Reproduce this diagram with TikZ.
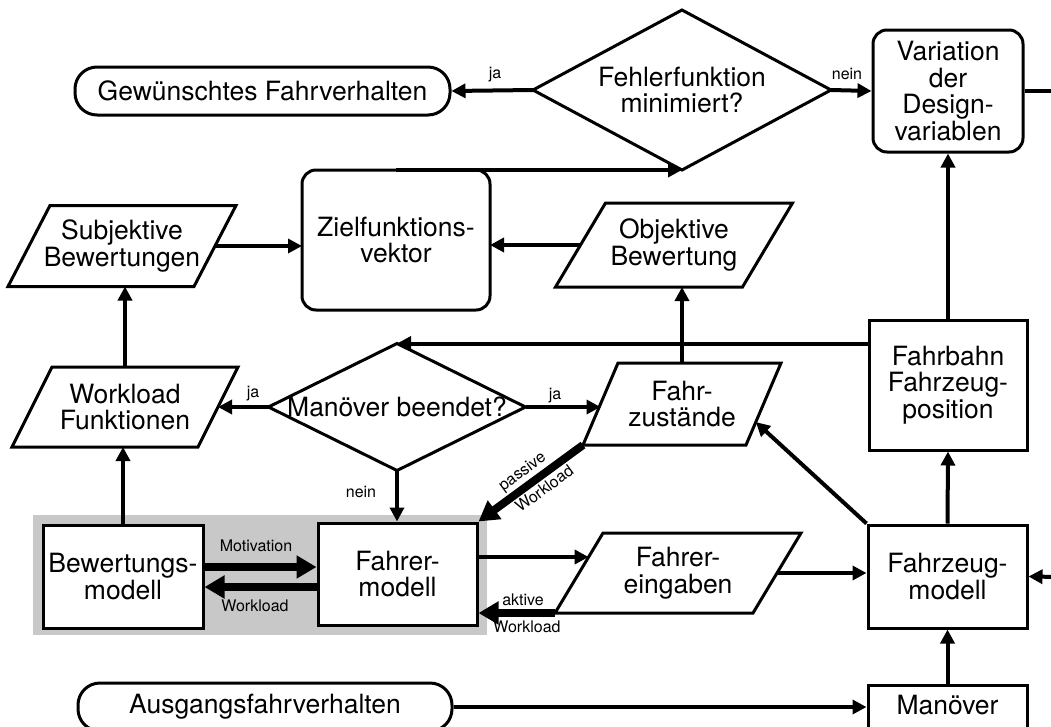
\documentclass[tikz,border=0pt]{standalone}
\usepackage{fontspec}
\setmainfont{TeX Gyre Heros}
\usetikzlibrary{arrows.meta,calc}
\definecolor{bggray}{RGB}{200,200,200}
\newcommand\bigf{\fontsize{26.5}{26.5}\selectfont}
\newcommand\smallf{\fontsize{16}{17}\selectfont}
\tikzset{
 shp/.style={draw, line width=3pt, inner sep=0pt, align=center, font=\bigf},
 rbox/.style={shp, rounded corners=14pt},
 sbox/.style={shp},
 pill/.style={shp, rounded corners=22pt},
 txt/.style={inner sep=0pt, outer sep=0pt, align=center, font=\bigf},
 arr/.style={line width=4pt, -{Triangle[length=14pt,width=14pt]}},
 tarr/.style={line width=8pt, -{Triangle[length=20pt,width=22pt]}},
 lbl/.style={font=\smallf, inner sep=0pt},
 outl/.style={line width=3pt},
}
% parallelogram: name, x, y, mid width, height, half slant offset, text
\newcommand\para[7]{%
 \node[txt, minimum width=#4, minimum height=#5] (#1) at (#2,#3) {#7};
 \draw[outl] ([xshift=-#6]#1.south west) coordinate (#1-bl)
   -- ([xshift=#6]#1.north west) coordinate (#1-tl)
   -- ([xshift=#6]#1.north east) coordinate (#1-tr)
   -- ([xshift=-#6]#1.south east) coordinate (#1-br) -- cycle;}
% diamond: name, x, y, width, height, text
\newcommand\dia[6]{%
 \node[txt, minimum width=#4, minimum height=#5] (#1) at (#2,#3) {#6};
 \draw[outl] (#1.north) -- (#1.east) -- (#1.south) -- (#1.west) -- cycle;}
\begin{document}
\begin{tikzpicture}[x=1pt,y=-1pt]
\useasboundingbox (0,0) rectangle (1051,726);
\clip (0,0) rectangle (1051,726);
\fill[bggray] (33,515) rectangle (487,635);

\node[pill, minimum width=375pt, minimum height=48pt] (gw) at (262.5,91) {Gewünschtes Fahrverhalten};
\dia{ff}{682}{90}{298pt}{160pt}{Fehlerfunktion\\minimiert?}
\node[rbox, minimum width=150pt, minimum height=122pt] (var) at (948,91) {Variation\\der\\Design-\\variablen};
\node[rbox, outer sep=0pt, minimum width=188pt, minimum height=140pt] (zv) at (396,240) {Zielfunktions-\\vektor};
\para{sb}{122}{246}{186pt}{81pt}{21pt}{Subjektive\\Bewertungen}
\para{ob}{674}{245}{187pt}{84pt}{25pt}{Objektive\\Bewertung}
\para{wf}{125}{407}{186pt}{80pt}{20pt}{Workload\\Funktionen}
\dia{mb}{397}{407}{257pt}{127pt}{Manöver beendet?}
\para{fz}{682}{404}{163pt}{82pt}{17.5pt}{Fahr-\\zustände}
\node[sbox, minimum width=158pt, minimum height=130pt] (fb) at (948,385) {Fahrbahn\\Fahrzeug-\\position};
\node[sbox, fill=white, minimum width=160pt, minimum height=103pt] (bm) at (123,576.5) {Bewertungs-\\modell};
\node[sbox, fill=white, minimum width=159pt, minimum height=102pt] (fm) at (397.5,574) {Fahrer-\\modell};
\para{fe}{678}{573}{198pt}{80pt}{24pt}{Fahrer-\\eingaben}
\node[sbox, minimum width=159pt, minimum height=103pt] (fzm) at (947.5,576.5) {Fahrzeug-\\modell};
\node[sbox, minimum width=159pt, minimum height=60pt, label={[txt,yshift=10pt]center:Manöver}] (man) at (947.5,715) {};
\node[pill, minimum width=374pt, minimum height=48pt] (aus) at (265,707) {Ausgangsfahrverhalten};

\coordinate (redge1) at (1062,91);
\coordinate (redge2) at (1062,577);
\coordinate (fein) at ($(fe-bl)!0.7!(fe-tl)$);
\coordinate (fzin) at ($(fz-br)!0.28!(fz-tr)$);

\draw[arr] (ff.west) -- (gw.east);
\draw[arr] (ff.east) -- (var.west);
\draw[line width=4pt] (var.east) -- (redge1);
\draw[arr] (zv.north) -- (ff.south);
\draw[arr] (sb.east) -- (sb.east -| zv.west);
\draw[arr] (ob.west) -- (ob.west -| zv.east);
\draw[arr] (wf.north) -- (wf.north |- sb.south);
\draw[arr] (bm.north) -- (bm.north |- wf.south);
\draw[arr] (mb.west) -- (mb.west -| wf.east);
\draw[arr] (mb.east) -- (mb.east -| fz.west);
\draw[arr] (mb.south) -- (mb.south |- fm.north);
\draw[arr] (fz.north) -- (fz.north |- ob.south);
\draw[arr] (fb.west |- mb.north) -- (mb.north);
\draw[arr] (fb.north) -- (var.south);
\draw[arr] (fzm.north) -- (fb.south);
\draw[arr] (man.north) -- (fzm.south);
\draw[arr] (aus.east) -- (aus.east -| man.west);
\draw[arr] (redge2) -- (fzm.east);
\draw[arr] (fzm.north west) -- (fzin);
\draw[arr] (fm.east |- fein) -- (fein);
\draw[arr] (fe.east) -- (fe.east -| fzm.west);
\draw[tarr] (fe-bl) -- (fe-bl -| fm.east);
\draw[tarr] (fz-bl) -- (fm.north east);
\path (fm.north east) -- (fz-bl)
  node[lbl, pos=0.5, sloped, above=6pt] (l10) {passive}
  node[lbl, pos=0.56, sloped, below=6pt] (l11) {Workload};
\draw[tarr] ([yshift=9.5pt]bm.east) -- ([yshift=9.5pt]bm.east -| fm.west);
\draw[tarr] ([yshift=-13pt]fm.west) -- ([yshift=-13pt]fm.west -| bm.east);

\node[lbl] (l1) at (495,75) {ja};
\node[lbl] (l2) at (847,74) {nein};
\node[lbl] (l3) at (253,394) {ja};
\node[lbl] (l4) at (555,396) {ja};
\node[lbl] (l5) at (361,492) {nein};
\node[lbl] (l6) at (256,546) {Motivation};
\node[lbl] (l7) at (255,606) {Workload};
\node[lbl] (l8) at (523,600) {aktive};
\node[lbl] (l9) at (527,627) {Workload};
\end{tikzpicture}
\end{document}
